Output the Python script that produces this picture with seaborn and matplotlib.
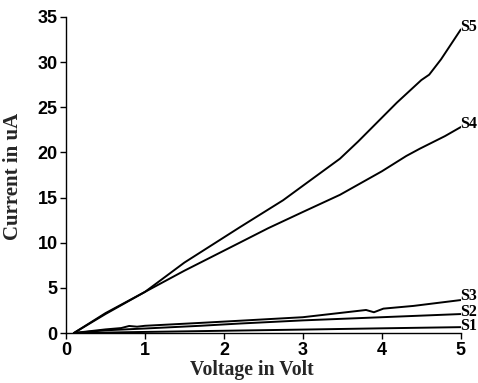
import matplotlib
matplotlib.use("Agg")
import matplotlib.pyplot as plt
import seaborn as sns
import pandas as pd

# ---- data ----
s1_v = [0.1, 1.0, 2.0, 3.0, 4.0, 5.0]
s1_i = [0.0, 0.12, 0.25, 0.38, 0.52, 0.65]

s2_v = [0.1, 0.5, 1.0, 1.7, 2.2, 3.0, 4.0, 5.0]
s2_i = [0.0, 0.3, 0.5, 0.8, 1.05, 1.4, 1.75, 2.1]

s3_v = [0.1, 0.5, 0.7, 0.8, 0.9, 1.0, 1.7, 2.2, 3.0, 3.5, 3.8, 3.9, 4.02, 4.4, 5.0]
s3_i = [0.0, 0.4, 0.55, 0.78, 0.7, 0.8, 1.12, 1.36, 1.75, 2.25, 2.55, 2.3, 2.7, 3.0, 3.65]

s4_v = [0.1, 0.5, 1.0, 1.5, 2.2, 2.56, 3.0, 3.47, 4.0, 4.31, 4.48, 4.8, 5.0]
s4_i = [0.0, 2.2, 4.55, 6.9, 10.0, 11.6, 13.4, 15.3, 17.9, 19.6, 20.4, 21.8, 22.8]

s5_v = [0.1, 0.5, 1.0, 1.5, 2.2, 2.75, 3.0, 3.47, 3.7, 4.19, 4.5, 4.6, 4.75, 5.0]
s5_i = [0.0, 2.1, 4.55, 7.8, 11.7, 14.7, 16.3, 19.3, 21.2, 25.5, 28.0, 28.6, 30.3, 33.6]

labels = ["S1", "S2", "S3", "S4", "S5"]
label_y = [0.75, 2.35, 4.05, 23.1, 33.9]

x_ticks = [0, 1, 2, 3, 4, 5]
y_ticks = [0, 5, 10, 15, 20, 25, 30, 35]

series = [(s1_v, s1_i), (s2_v, s2_i), (s3_v, s3_i), (s4_v, s4_i), (s5_v, s5_i)]

sns.set_theme(style="ticks")
plt.rcParams["font.family"] = ["Liberation Sans", "DejaVu Sans"]

fig = plt.figure(figsize=(4.78, 3.83), dpi=100)
ax = fig.add_axes([0.138, 0.1305, 0.826, 0.8255])

for (v, i), name in zip(series, labels):
    df = pd.DataFrame({"v": v, "i": i})
    sns.lineplot(data=df, x="v", y="i", color="black", linewidth=1.4,
                 ax=ax, estimator=None, sort=False)

for name, ly in zip(labels, label_y):
    ax.text(4.99, ly, name, fontfamily="Liberation Serif", fontweight="bold",
            fontsize=11.5, ha="left", va="center", color="black")

ax.set_xlim(0, 5)
ax.set_ylim(0, 35)
ax.set_xticks(x_ticks)
ax.set_yticks(y_ticks)
ax.set_xticklabels([str(t) for t in x_ticks], fontweight="bold", fontsize=13)
ax.set_yticklabels([str(t) for t in y_ticks], fontweight="bold", fontsize=13)
ax.tick_params(direction="out", length=4, width=1, colors="black", pad=2)
ax.tick_params(axis="x", pad=2.5)

ax.set_xlabel("Voltage in Volt", fontfamily="Liberation Serif", fontweight="bold",
              fontsize=14.2)
ax.set_ylabel("Current in uA", fontfamily="Liberation Serif", fontweight="bold",
              fontsize=15)
ax.xaxis.set_label_coords(0.47, -0.085)
ax.yaxis.set_label_coords(-0.11, 0.495)

sns.despine(ax=ax)
for sp in ["left", "bottom"]:
    ax.spines[sp].set_color("black")
    ax.spines[sp].set_linewidth(1)

fig.savefig("out.png", dpi=100)
